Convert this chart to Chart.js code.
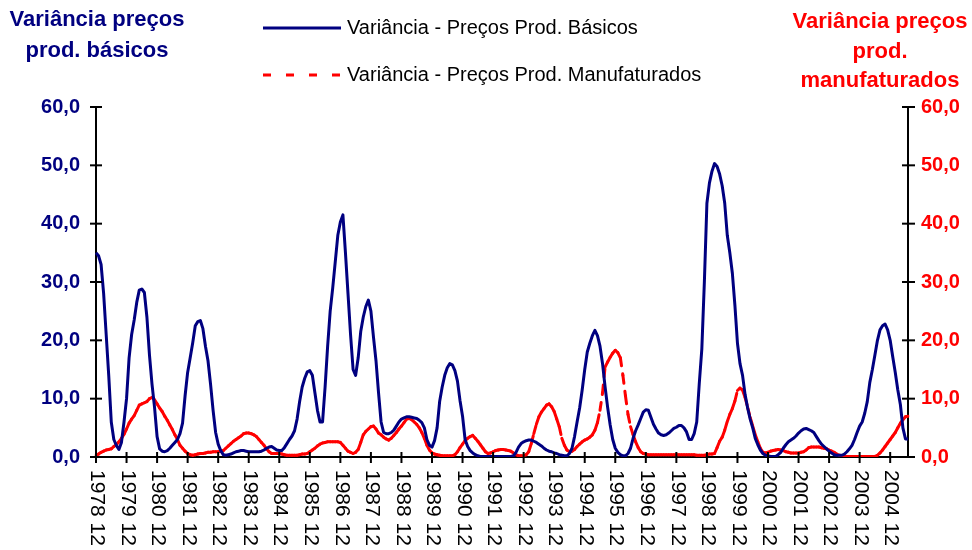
<!DOCTYPE html>
<html lang="pt">
<head>
<meta charset="utf-8">
<title>Variância de preços</title>
<script src="https://cdn.jsdelivr.net/npm/chart.js@4.4.1/dist/chart.umd.min.js"></script>
<style>
  html, body { margin: 0; padding: 0; background: #fff; }
  #wrap { width: 972px; height: 550px; }
</style>
</head>
<body>
<div id="wrap"><canvas id="grafico" width="972" height="550"></canvas></div>
<script>
// meses do ano (rótulo só em dezembro)
const mesesAno = ["01", "02", "03", "04", "05", "06", "07", "08", "09", "10", "11", "12"];

// Variância - Preços Prod. Básicos (mensal, 1978 12 a 2005 07)
const basicos = [
  35,
  34.5, 33, 28, 21, 14, 6, 3, 2, 1.3, 2.5, 6, 10,                 // 1979
  17, 21, 23.5, 26.5, 28.6, 28.8, 28.2, 24, 17.5, 12.5, 8.5, 3.5, // 1980
  1.4, 1, 0.9, 1.1, 1.5, 2, 2.5, 3, 4, 5.8, 10.5, 14.5,           // 1981
  17, 19.6, 22.5, 23.2, 23.4, 22, 19, 16.5, 12.5, 8, 4.2, 2.2,    // 1982
  1.1, 0.4, 0.3, 0.4, 0.5, 0.7, 0.9, 1, 1.1, 1.1, 1, 0.9,         // 1983
  0.9, 0.9, 0.9, 0.9, 1, 1.2, 1.5, 1.7, 1.8, 1.5, 1.2, 1.1,       // 1984
  1.1, 1.6, 2.3, 3, 3.6, 4.5, 6.5, 9.5, 12, 13.5, 14.6, 14.8,     // 1985
  14, 11, 8, 6, 6, 12, 19, 25, 29, 33.5, 38, 40.3,                // 1986
  41.5, 35, 28, 21, 15, 14, 17, 21.5, 24, 25.8, 26.9, 25,         // 1987
  20.6, 16.5, 11, 6, 4.2, 4, 4, 4.2, 4.6, 5.3, 6, 6.5,            // 1988
  6.7, 6.9, 6.9, 6.8, 6.7, 6.6, 6.3, 5.9, 5, 3, 2, 1.7,           // 1989
  2.8, 5, 9.5, 12, 14, 15.3, 16, 15.8, 14.8, 13, 9.7, 7,          // 1990
  3, 1.8, 1.1, 0.7, 0.4, 0.2, 0.1, 0.1, 0.1, 0.1, 0.1, 0.1,       // 1991
  0.1, 0.1, 0.1, 0.1, 0.1, 0.1, 0.1, 0.2, 0.8, 1.7, 2.3, 2.6,     // 1992
  2.8, 2.9, 2.9, 2.7, 2.5, 2.2, 1.9, 1.5, 1.2, 1, 0.9, 0.7,       // 1993
  0.6, 0.4, 0.3, 0.2, 0.2, 0.6, 1.5, 3.5, 6, 8.4, 11.5, 15,       // 1994
  18, 19.5, 20.8, 21.7, 20.8, 19, 16, 12, 8.5, 5.5, 3, 1.5,       // 1995
  0.8, 0.4, 0.2, 0.2, 0.6, 1.5, 3.2, 4.5, 5.5, 6.6, 7.7, 8.1,     // 1996
  8, 6.8, 5.6, 4.8, 4.1, 3.8, 3.7, 3.8, 4.1, 4.5, 4.9, 5.1,       // 1997
  5.4, 5.4, 5, 4.3, 3, 3, 4, 6, 12.6, 18.5, 30, 43.5,             // 1998
  47, 49, 50.3, 49.8, 48.5, 46.5, 43.5, 38, 35, 31.5, 26, 19.5,   // 1999
  16, 14, 10.7, 8.4, 6.5, 5, 3.2, 2.1, 1.2, 0.6, 0.3, 0.2,        // 2000
  0.1, 0.1, 0.1, 0.4, 0.8, 1.5, 2.1, 2.6, 2.9, 3.2, 3.6, 4.1,     // 2001
  4.5, 4.8, 4.9, 4.7, 4.5, 4.2, 3.5, 2.8, 2.2, 1.8, 1.4, 1,       // 2002
  0.7, 0.4, 0.3, 0.3, 0.3, 0.5, 0.9, 1.4, 2, 3, 4.2, 5.3,         // 2003
  6, 7.5, 9.5, 12.8, 15, 17.5, 20, 21.8, 22.5, 22.8, 21.8, 20,    // 2004
  17.2, 14.5, 11.5, 9, 5, 3.1, 3.1                                // 2005
];

// Variância - Preços Prod. Manufaturados
const manufaturados = [
  0.3,
  0.5, 0.8, 1, 1.2, 1.3, 1.4, 1.8, 2.1, 2.6, 3.2, 3.9, 4.8,       // 1979
  5.8, 6.5, 7.1, 8, 8.9, 9.1, 9.3, 9.5, 10, 10.2, 9.8, 9.1,       // 1980
  8.4, 7.8, 7, 6.3, 5.5, 4.7, 3.8, 3, 2, 1.5, 1, 0.6,             // 1981
  0.4, 0.3, 0.4, 0.5, 0.6, 0.6, 0.7, 0.8, 0.8, 0.9, 0.9, 0.9,     // 1982
  1, 1.1, 1.5, 1.9, 2.3, 2.7, 3, 3.3, 3.6, 4, 4.1, 4.1,           // 1983
  4, 3.8, 3.5, 3, 2.5, 2, 1.4, 0.9, 0.6, 0.6, 0.6, 0.6,           // 1984
  0.5, 0.4, 0.3, 0.3, 0.3, 0.3, 0.3, 0.4, 0.5, 0.5, 0.6, 0.9,     // 1985
  1.2, 1.5, 1.9, 2.2, 2.4, 2.5, 2.6, 2.6, 2.6, 2.6, 2.6, 2.5,     // 1986
  2, 1.5, 1, 0.8, 0.6, 0.8, 1.3, 2.5, 3.8, 4.4, 4.8, 5.2,         // 1987
  5.3, 4.8, 4.1, 3.8, 3.4, 3.1, 2.9, 3.2, 3.7, 4.2, 4.8, 5.3,     // 1988
  5.9, 6.5, 6.6, 6.4, 6, 5.6, 5, 4.2, 3.2, 2, 1.2, 0.7,           // 1989
  0.5, 0.4, 0.3, 0.2, 0.2, 0.2, 0.2, 0.2, 0.4, 0.9, 1.6, 2.2,     // 1990
  2.8, 3.2, 3.5, 3.7, 3.2, 2.7, 2.1, 1.5, 0.9, 0.6, 0.7, 0.9,     // 1991
  1.1, 1.2, 1.3, 1.3, 1.2, 1.1, 1, 0.7, 0.4, 0.2, 0.2, 0.2,       // 1992
  0.4, 0.9, 2.3, 4, 5.6, 6.9, 7.7, 8.3, 8.9, 9.1, 8.6, 7.8,       // 1993
  6.5, 5.2, 3.2, 2, 1.2, 0.9, 1, 1.3, 1.8, 2.2, 2.6, 2.9,         // 1994
  3.1, 3.4, 3.8, 4.6, 5.9, 8, 11, 15.4, 16.3, 17.1, 17.8, 18.3,   // 1995
  17.9, 17, 14, 10.5, 7.3, 5.2, 3.8, 2.6, 1.6, 0.9, 0.6, 0.5,     // 1996
  0.4, 0.4, 0.4, 0.4, 0.4, 0.4, 0.4, 0.4, 0.4, 0.4, 0.4, 0.4,     // 1997
  0.4, 0.4, 0.4, 0.4, 0.4, 0.4, 0.4, 0.3, 0.3, 0.3, 0.3, 0.4,     // 1998
  0.5, 0.5, 0.6, 1.6, 2.7, 3.4, 4.6, 6.1, 7.3, 8.3, 9.6, 11.4,    // 1999
  11.8, 11.5, 10.2, 8.5, 6.8, 5.3, 3.8, 2.6, 1.5, 0.8, 0.7, 0.8,  // 2000
  1, 1.1, 1.2, 1.3, 1.2, 1.1, 0.9, 0.8, 0.7, 0.7, 0.7, 0.7,       // 2001
  0.8, 0.9, 1.2, 1.6, 1.7, 1.7, 1.7, 1.7, 1.6, 1.5, 1.4, 1.2,     // 2002
  1, 0.8, 0.5, 0.3, 0.2, 0.1, 0.1, 0.1, 0.1, 0.1, 0.1, 0.1,       // 2003
  0.1, 0.1, 0.1, 0.1, 0.1, 0.1, 0.3, 0.7, 1.2, 1.8, 2.4, 3,       // 2004
  3.6, 4.2, 5, 5.8, 6.4, 6.9, 7                                   // 2005
];

// categorias "AAAA MM" a partir de 1978 12
const categorias = ["1978 12"];
for (let ano = 1979; categorias.length < basicos.length; ano++) {
  for (const m of mesesAno) {
    if (categorias.length < basicos.length) categorias.push(`${ano} ${m}`);
  }
}

const AZUL = "#000080";
const VERMELHO = "#FF0000";
const FONTE = "'Liberation Sans', Arial, sans-serif";

const formatoTick = (v) => v.toFixed(1).replace(".", ",");

// desenha rótulos do eixo x, marcas, títulos e legenda
const decoracao = {
  id: "decoracao",
  afterDraw(chart) {
    const { ctx, chartArea: area, scales } = chart;
    const linha = (x1, y1, x2, y2) => {
      ctx.beginPath();
      ctx.moveTo(x1, y1);
      ctx.lineTo(x2, y2);
      ctx.stroke();
    };
    ctx.save();

    // marcas dos eixos (cruzando a linha)
    ctx.strokeStyle = "#000";
    ctx.lineWidth = 2;
    scales.y.ticks.forEach((t, i) => {
      const y = scales.y.getPixelForTick(i);
      linha(area.left - 6, y, area.left + 6, y);
    });
    scales.y2.ticks.forEach((t, i) => {
      const y = scales.y2.getPixelForTick(i);
      linha(area.right - 6, y, area.right + 7, y);
    });
    scales.x.ticks.forEach((t, i) => {
      const x = scales.x.getPixelForTick(i);
      linha(x, area.bottom - 5, x, area.bottom + 6);
    });

    // rótulos do eixo x, verticais
    ctx.fillStyle = "#000";
    ctx.font = `21px ${FONTE}`;
    ctx.textAlign = "left";
    ctx.textBaseline = "middle";
    scales.x.ticks.forEach((t, i) => {
      const x = scales.x.getPixelForTick(i);
      ctx.save();
      ctx.translate(x + 1, area.bottom + 13);
      ctx.rotate(Math.PI / 2);
      ctx.fillText(categorias[t.value], 0, 0);
      ctx.restore();
    });

    // títulos dos eixos
    ctx.textAlign = "center";
    ctx.font = `bold 22px ${FONTE}`;
    ctx.fillStyle = AZUL;
    ctx.fillText("Variância preços", 97, 20);
    ctx.fillText("prod. básicos", 97, 51);
    ctx.fillStyle = VERMELHO;
    ctx.fillText("Variância preços", 880, 22);
    ctx.fillText("prod.", 880, 52);
    ctx.fillText("manufaturados", 880, 81);

    // legenda
    ctx.lineWidth = 3;
    ctx.strokeStyle = AZUL;
    linha(263, 28, 341, 28);
    ctx.strokeStyle = VERMELHO;
    ctx.setLineDash([8, 15]);
    linha(263, 75, 341, 75);
    ctx.setLineDash([]);
    ctx.fillStyle = "#000";
    ctx.font = `20px ${FONTE}`;
    ctx.textAlign = "left";
    ctx.fillText("Variância - Preços Prod. Básicos", 347, 28);
    ctx.fillText("Variância - Preços Prod. Manufaturados", 347, 75);

    ctx.restore();
  }
};

const ctx = document.getElementById("grafico").getContext("2d");
const grafico = new Chart(ctx, {
  type: "line",
  data: {
    labels: categorias,
    datasets: [
      {
        label: "Variância - Preços Prod. Básicos",
        data: basicos,
        yAxisID: "y",
        borderColor: AZUL,
        borderWidth: 3,
        pointRadius: 0,
        tension: 0,
        borderJoinStyle: "round"
      },
      {
        label: "Variância - Preços Prod. Manufaturados",
        data: manufaturados,
        yAxisID: "y2",
        borderColor: VERMELHO,
        borderWidth: 3,
        pointRadius: 0,
        tension: 0,
        borderDash: [8, 8],
        borderCapStyle: "round",
        // cada segmento com o seu próprio tracejado (como no Excel)
        segment: {
          borderDashOffset: (c) => (c.p0DataIndex % 2) * 0.01
        }
      }
    ]
  },
  options: {
    responsive: false,
    animation: false,
    devicePixelRatio: 1,
    layout: { padding: { top: 107, left: 0, right: 0, bottom: 0 } },
    plugins: {
      legend: { display: false },
      tooltip: { enabled: false }
    },
    scales: {
      x: {
        type: "category",
        offset: false,
        grid: { display: false },
        border: { display: true, color: "#000", width: 2 },
        ticks: { display: false, autoSkip: false },
        afterBuildTicks: (scale) => {
          scale.ticks = scale.ticks.filter((t) => categorias[t.value].endsWith(" 12"));
        },
        afterFit: (scale) => { scale.height = 93; }
      },
      y: {
        position: "left",
        min: 0,
        max: 60,
        grid: { display: false },
        border: { display: true, color: "#000", width: 2 },
        ticks: {
          stepSize: 10,
          padding: 8,
          color: AZUL,
          font: { family: FONTE, size: 20, weight: "bold" },
          callback: formatoTick
        },
        afterFit: (scale) => { scale.width = 96; }
      },
      y2: {
        position: "right",
        min: 0,
        max: 60,
        grid: { display: false },
        border: { display: true, color: "#000", width: 2 },
        ticks: {
          stepSize: 10,
          padding: 5,
          color: VERMELHO,
          font: { family: FONTE, size: 20, weight: "bold" },
          callback: formatoTick
        },
        afterFit: (scale) => { scale.width = 64; }
      }
    }
  },
  plugins: [decoracao]
});
</script>
</body>
</html>
